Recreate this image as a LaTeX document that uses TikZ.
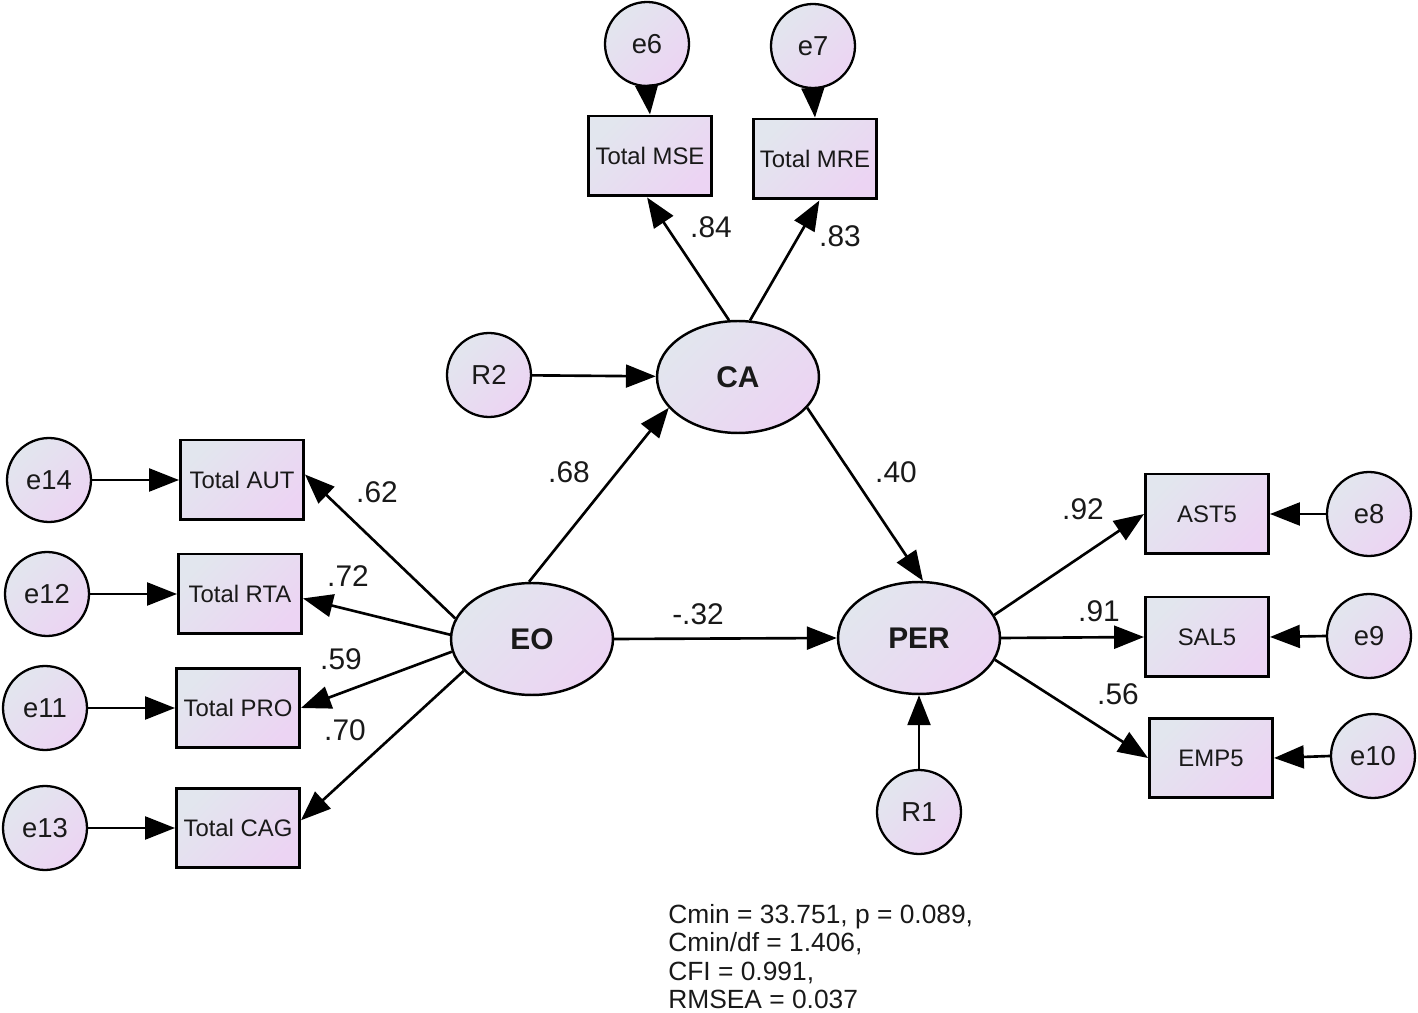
\documentclass[tikz,border=0pt]{standalone}
\usepackage{fontspec}
\setmainfont{Liberation Sans}
\usetikzlibrary{arrows.meta,shapes.geometric}
\definecolor{fillA}{RGB}{226,230,238}
\definecolor{fillB}{RGB}{236,212,243}
\definecolor{ink}{RGB}{25,25,25}
\begin{document}
\begin{tikzpicture}[x=0.02cm,y=-0.02cm,
  shadefill/.style={left color=fillA,right color=fillB,shading angle=45},
  obs/.style={draw,line width=1.7pt,rectangle,shadefill,minimum width=2.46cm,minimum height=1.6cm,inner sep=0pt,text=ink,font=\fontsize{13.6}{16}\selectfont},
  err/.style={draw,line width=1.3pt,circle,shadefill,minimum size=1.68cm,inner sep=0pt,text=ink,font=\fontsize{15.6}{18}\selectfont},
  lat/.style={draw,line width=1.4pt,ellipse,shadefill,minimum width=3.24cm,minimum height=2.24cm,inner sep=0pt,text=ink,font=\fontsize{17}{20}\selectfont\bfseries},
  arrowpath/.style={line width=1.5pt,-{Triangle[length=17pt,width=13pt]}},
  coef/.style={inner sep=0pt,text=ink,font=\fontsize{17}{20}\selectfont},
  fitline/.style={inner sep=0pt,anchor=base west,text=ink,font=\fontsize{15}{16}\selectfont}]
\useasboundingbox (0,0) rectangle (1418,1013);

% top indicators
\node[err] (e6) at (647,44) {e6};
\node[err] (e7) at (813,46) {e7};
\node[obs] (MSE) at (650,156) {Total MSE};
\node[obs] (MRE) at (815,159) {Total MRE};

% latents
\node[lat] (CA) at (738,377) {CA};
\node[err] (R2) at (489,375) {R2};
\node[lat] (EO) at (532,639) {EO};
\node[lat] (PER) at (919,638) {PER};
\node[err] (R1) at (919,812) {R1};

% left indicators
\node[obs] (AUT) at (242,480) {Total AUT};
\node[obs] (RTA) at (240,594) {Total RTA};
\node[obs] (PRO) at (238,708) {Total PRO};
\node[obs] (CAG) at (238,828) {Total CAG};
\node[err] (e14) at (49,480) {e14};
\node[err] (e12) at (47,594) {e12};
\node[err] (e11) at (45,708) {e11};
\node[err] (e13) at (45,828) {e13};

% right indicators
\node[obs] (AST) at (1207,514) {AST5};
\node[obs] (SAL) at (1207,637) {SAL5};
\node[obs] (EMP) at (1211,758) {EMP5};
\node[err] (e8) at (1369,514) {e8};
\node[err] (e9) at (1369,636) {e9};
\node[err] (e10) at (1373,756) {e10};

% connectors
\draw[arrowpath] (e6.south) -- (MSE.north);
\draw[arrowpath] (e7.south) -- (MRE.north);
\draw[arrowpath] (CA.99) -- (MSE.-94);
\draw[arrowpath] (CA.78) -- (MRE.-84);
\draw[arrowpath] (R2) -- (CA);
\draw[arrowpath] (EO.93) -- (CA.204);
\draw[arrowpath] (CA.-24) -- (PER.86);
\draw[arrowpath] (EO.east) -- (PER.west);
\draw[arrowpath] (R1.north) -- (PER.south);

\draw[arrowpath] (EO.165) -- (AUT.5);
\draw[arrowpath] (EO.177) -- (RTA.-4);
\draw[arrowpath] (EO.189) -- (PRO.east);
\draw[arrowpath] (EO.205) -- (CAG.7);
\draw[arrowpath] (e14.east) -- (AUT.west);
\draw[arrowpath] (e12.east) -- (RTA.west);
\draw[arrowpath] (e11.east) -- (PRO.west);
\draw[arrowpath] (e13.east) -- (CAG.west);

\draw[arrowpath] (PER.17) -- (AST.west);
\draw[arrowpath] (PER.east) -- (SAL.west);
\draw[arrowpath] (PER.-16) -- (EMP.west);
\draw[arrowpath] (e8.west) -- (AST.east);
\draw[arrowpath] (e9.west) -- (SAL.east);
\draw[arrowpath] (e10.west) -- (EMP.east);

% coefficients
\node[coef] (c84) at (711,227) {.84};
\node[coef] (c83) at (840,236) {.83};
\node[coef] (c68) at (569,472) {.68};
\node[coef] (c40) at (896,472) {.40};
\node[coef] (c32) at (698,614) {-.32};
\node[coef] (c62) at (377,492) {.62};
\node[coef] (c72) at (348,576) {.72};
\node[coef] (c59) at (341,659) {.59};
\node[coef] (c70) at (345,730) {.70};
\node[coef] (c92) at (1083,509) {.92};
\node[coef] (c91) at (1099,611) {.91};
\node[coef] (c56) at (1118,694) {.56};

% fit indices
\node[fitline] (fit1) at (668,923) {Cmin = 33.751, p = 0.089,};
\node[fitline] (fit2) at (668,951) {Cmin/df = 1.406,};
\node[fitline] (fit3) at (668,980) {CFI = 0.991,};
\node[fitline] (fit4) at (668,1008) {RMSEA = 0.037};
\end{tikzpicture}
\end{document}
